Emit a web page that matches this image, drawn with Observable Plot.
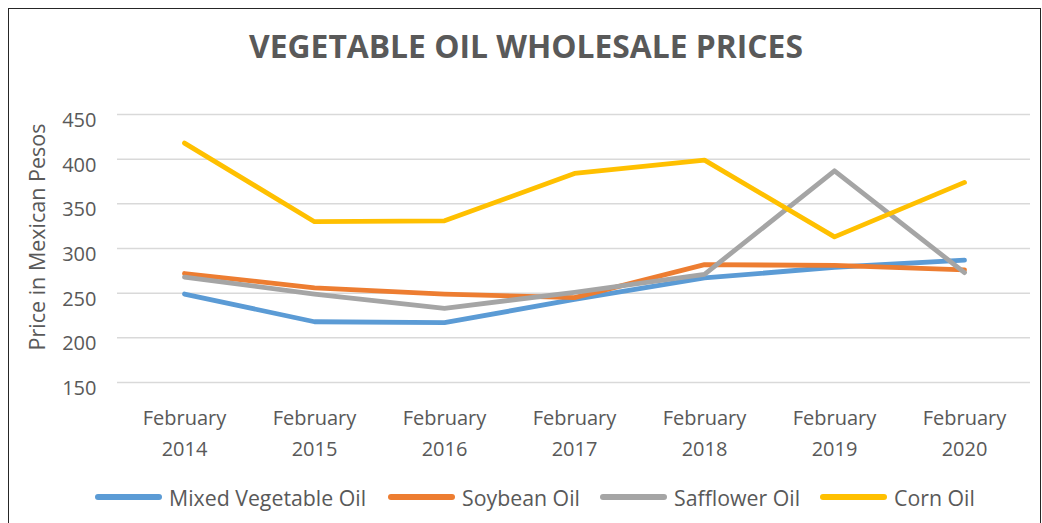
<!DOCTYPE html>
<html>
<head>
<meta charset="utf-8">
<script src="https://cdn.jsdelivr.net/npm/d3@7"></script>
<script src="https://cdn.jsdelivr.net/npm/@observablehq/plot@0.6"></script>
<style>
  html, body { margin: 0; padding: 0; background: #fff; }
  body { width: 1042px; height: 523px; position: relative; overflow: hidden; font-family: "Open Sans", sans-serif; color: #595959; }
  #frame { position: absolute; left: 8px; top: 8px; width: 1033px; height: 540px; border: 1.5px solid #262626; box-sizing: border-box; }
  #title { position: absolute; left: 0; top: 25px; width: 1052px; text-align: center; font-weight: bold; font-size: 31.8px; line-height: 41px; color: #595959; }
  #chart { position: absolute; left: 0; top: 90px; }
  #legend { position: absolute; top: 483px; left: 0; width: 1042px; height: 28px; }
  .item { position: absolute; top: 0; display: flex; align-items: center; height: 28px; font-size: 21.3px; }
  .sw { width: 67px; height: 5.5px; border-radius: 3px; margin-right: 7px; }
</style>
</head>
<body>
<div id="frame"></div>
<div id="title">VEGETABLE OIL WHOLESALE PRICES</div>
<div id="chart"></div>
<div id="legend"></div>
<script>
const categories = ["February 2014", "February 2015", "February 2016", "February 2017", "February 2018", "February 2019", "February 2020"];
const seriesNames = ["Mixed Vegetable Oil", "Soybean Oil", "Safflower Oil", "Corn Oil"];
const seriesColors = ["#5b9bd5", "#ed7d31", "#a5a5a5", "#ffc000"];
const mixedVegetableOil = [249, 218, 217, 243, 267, 279, 287];
const soybeanOil = [272, 256, 249, 245, 282, 281, 276];
const safflowerOil = [268, 249, 233, 251, 271, 387, 273];
const cornOil = [418, 330, 331, 384, 399, 313, 374];
const yTicks = [150, 200, 250, 300, 350, 400, 450];
const yLabel = "Price in Mexican Pesos";

const seriesValues = [mixedVegetableOil, soybeanOil, safflowerOil, cornOil];
const data = [];
seriesNames.forEach((name, i) => {
  categories.forEach((c, j) => data.push({series: name, category: c, value: seriesValues[i][j]}));
});

const chart = Plot.plot({
  width: 1042,
  height: 380,
  marginLeft: 117,
  marginRight: 12,
  marginTop: 24,
  marginBottom: 88,
  style: {fontFamily: "'Open Sans', sans-serif", color: "#595959", background: "transparent", overflow: "visible"},
  x: {type: "point", domain: categories, padding: 0.5},
  y: {domain: [150, 450], ticks: yTicks},
  color: {domain: seriesNames, range: seriesColors},
  marks: [
    Plot.gridY(yTicks, {stroke: "#d9d9d9", strokeOpacity: 1, strokeWidth: 1.5}),
    Plot.axisY(yTicks, {tickSize: 0, tickPadding: 21, fontSize: 20, dy: 6, label: null, fill: "#595959"}),
    Plot.text([yLabel], {frameAnchor: "left", rotate: -90, dx: -79.5, dy: -11.5, fontSize: 21.5, fill: "#595959", textAnchor: "middle", lineAnchor: "middle"}),
    Plot.axisX({tickSize: 0, tickPadding: 20, fontSize: 20, lineHeight: 1.55, tickFormat: d => d.replace(" ", "\n"), label: null, fill: "#595959"}),
    Plot.line(data, {x: "category", y: "value", z: "series", stroke: "series", strokeWidth: 4.8, strokeLinecap: "round", strokeLinejoin: "round"})
  ]
});
document.getElementById("chart").appendChild(chart);

const legend = document.getElementById("legend");
const lefts = [95, 388, 600, 820];
seriesNames.forEach((name, i) => {
  const item = document.createElement("div");
  item.className = "item";
  item.style.left = lefts[i] + "px";
  const sw = document.createElement("div");
  sw.className = "sw";
  sw.style.background = seriesColors[i];
  const t = document.createElement("span");
  t.textContent = name;
  item.appendChild(sw);
  item.appendChild(t);
  legend.appendChild(item);
});
</script>
</body>
</html>
